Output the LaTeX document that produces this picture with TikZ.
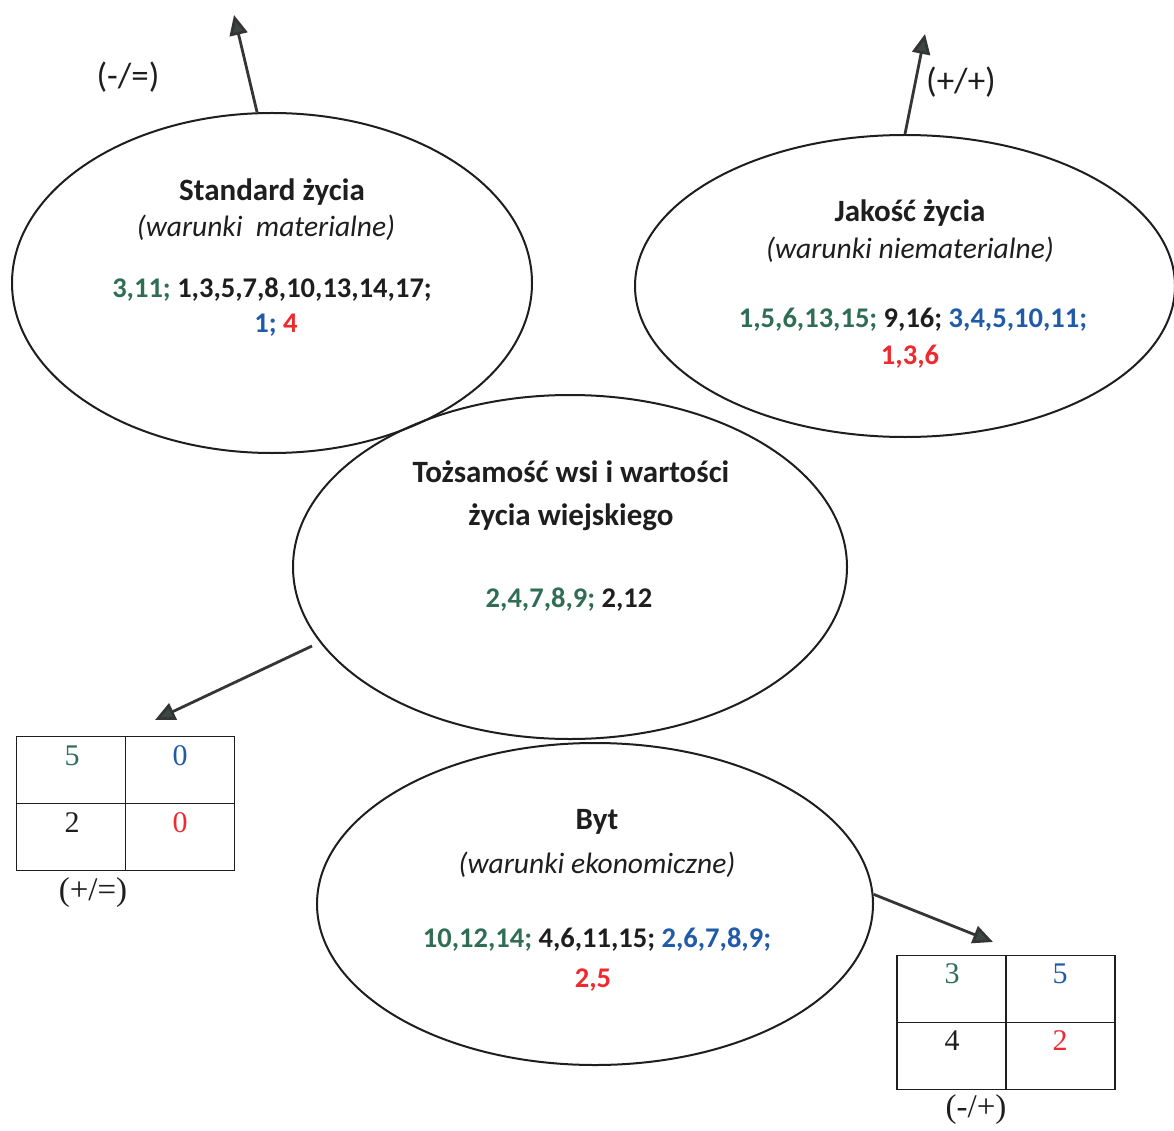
\documentclass[tikz,border=0pt]{standalone}
\usepackage{fontspec}
\setmainfont{Carlito}
\newfontfamily\serifnum{Liberation Serif}
\usetikzlibrary{shapes.geometric,arrows.meta}
\definecolor{cgreen}{HTML}{2F6E55}
\definecolor{cblue}{HTML}{1F5BA8}
\definecolor{cred}{HTML}{EE2A2F}
\definecolor{cblack}{HTML}{1E1E1E}
\definecolor{ctip}{HTML}{3A4846}
\begin{document}
\begin{tikzpicture}[x=1pt,y=-1pt,
  oval/.style={draw=cblack,line width=2pt,ellipse,inner sep=0pt},
  ttl/.style={font=\fontsize{31}{36}\selectfont\bfseries,text=cblack,inner sep=0pt},
  sub/.style={font=\fontsize{29.5}{34}\selectfont\itshape,text=cblack,inner sep=0pt},
  num/.style={font=\fontsize{28.5}{34}\selectfont\bfseries,inner sep=0pt},
  lbl/.style={font=\fontsize{35}{40}\selectfont,text=cblack,inner sep=0pt},
  tlbl/.style={font=\serifnum\fontsize{33}{38}\selectfont,text=cblack,inner sep=0pt},
  tnum/.style={font=\serifnum\fontsize{30}{34}\selectfont,inner sep=0pt},
  cell/.style={draw=cblack,line width=1.8pt,minimum width=109pt,minimum height=67pt,inner sep=0pt},
  arr/.style={draw=cblack!90,line width=2.8pt,-{Triangle[length=20pt,width=18pt,fill=ctip]}}
]
\useasboundingbox (0,0) rectangle (1174,1131);
\fill[white] (0,0) rectangle (1174,1131);

% ellipses
\node[oval,minimum width=520pt,minimum height=340pt] (se) at (272,283) {};
\node[oval,minimum width=540pt,minimum height=302pt] (je) at (905,286) {};
\node[oval,minimum width=554pt,minimum height=344pt] (te) at (570,567) {};
\node[oval,minimum width=556pt,minimum height=322pt] (be) at (595,904) {};

% texts: Standard
\node[ttl] (s1) at (272,192) {Standard życia};
\node[sub] (s2) at (266,228) {(warunki~~materialne)};
\node[num] (s3) at (272,290) {\textcolor{cgreen}{3,11;} \textcolor{cblack}{1,3,5,7,8,10,13,14,17;}};
\node[num] (s4) at (276,325) {\textcolor{cblue}{1;} \textcolor{cred}{4}};

% Jakosc
\node[ttl] (j1) at (910,213) {Jakość życia};
\node[sub] (j2) at (910,250) {(warunki niematerialne)};
\node[num] (j3) at (913,320) {\textcolor{cgreen}{1,5,6,13,15;} \textcolor{cblack}{9,16;} \textcolor{cblue}{3,4,5,10,11;}};
\node[num] (j4) at (910,357) {\textcolor{cred}{1,3,6}};

% Tozsamosc
\node[ttl] (t1) at (571,472) {Tożsamość wsi i wartości};
\node[ttl] (t2) at (571,517) {życia wiejskiego};
\node[num] (t3) at (569,600) {\textcolor{cgreen}{2,4,7,8,9;} \textcolor{cblack}{2,12}};

% Byt
\node[ttl] (b1) at (597,822) {Byt};
\node[sub] (b2) at (597,865) {(warunki ekonomiczne)};
\node[num] (b3) at (597,940) {\textcolor{cgreen}{10,12,14;} \textcolor{cblack}{4,6,11,15;} \textcolor{cblue}{2,6,7,8,9;}};
\node[num] (b4) at (593,980) {\textcolor{cred}{2,5}};

% arrows up
\coordinate (tipA) at (234,15);
\coordinate (tipB) at (925,34);
\draw[arr] (se.95) -- (tipA);
\draw[arr] (je.north) -- (tipB);
\node[lbl] (la) at (128,77) {(-/=)};
\node[lbl] (lb) at (961,82) {(+/+)};

% table 1
\node[cell] (c11) at (71,770) {};
\node[cell] (c12) at (180,770) {};
\node[cell] (c21) at (71,837) {};
\node[cell] (c22) at (180,837) {};
\node[tnum,text=cgreen] (n11) at (72,756) {5};
\node[tnum,text=cblue] (n12) at (180,756) {0};
\node[tnum,text=cblack] (n21) at (72,823) {2};
\node[tnum,text=cred] (n22) at (180,823) {0};
\node[tlbl] (lc) at (93,893) {(+/=)};

% table 2
\node[cell] (d11) at (951.5,989) {};
\node[cell] (d12) at (1060.5,989) {};
\node[cell] (d21) at (951.5,1056) {};
\node[cell] (d22) at (1060.5,1056) {};
\node[tnum,text=cgreen] (m11) at (952,974) {3};
\node[tnum,text=cblue] (m12) at (1060,974) {5};
\node[tnum,text=cblack] (m21) at (952,1041) {4};
\node[tnum,text=cred] (m22) at (1060,1041) {2};
\node[tlbl] (ld) at (976,1110) {(-/+)};

% arrows to tables
\coordinate (a3s) at (312,646);
\coordinate (a3t) at (155,720);
\coordinate (a4t) at (993,942);
\draw[arr] (a3s) -- (a3t);
\draw[arr] (be.2) -- (a4t);
\end{tikzpicture}
\end{document}
